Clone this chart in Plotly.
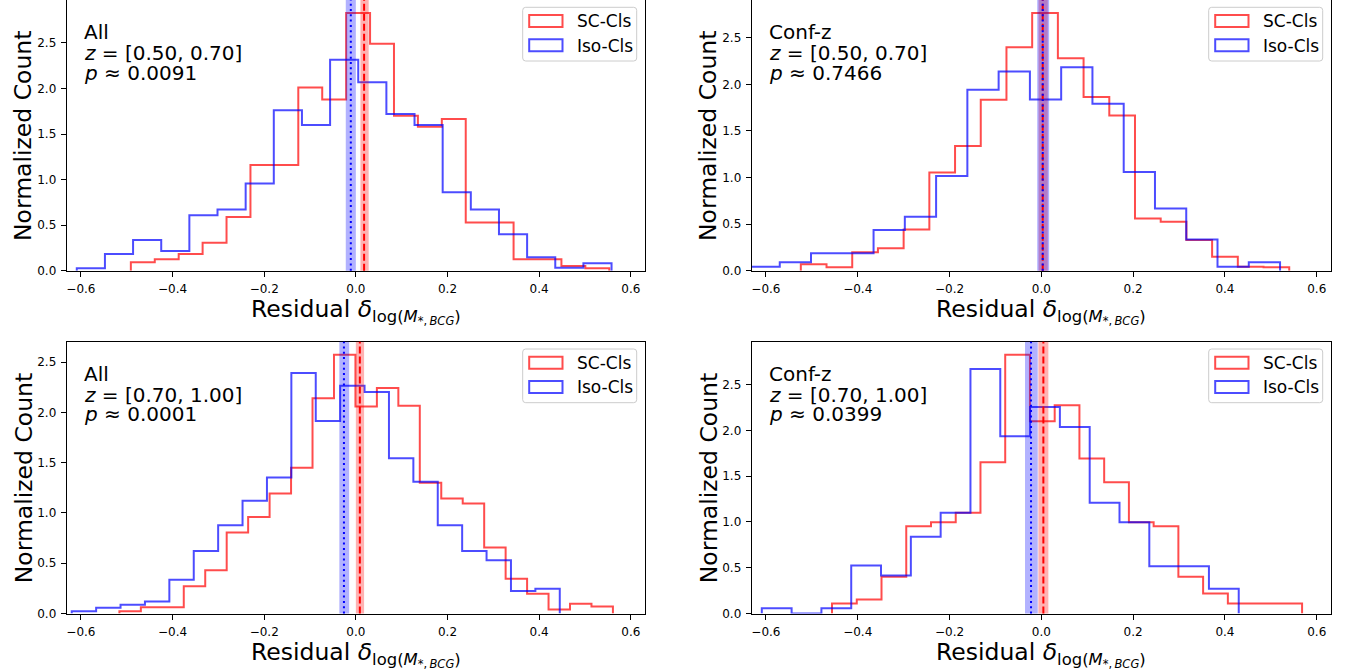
import numpy as np
import plotly.graph_objects as go

# ---------------- data ----------------
x_tick_vals = [-0.6, -0.4, -0.2, 0.0, 0.2, 0.4, 0.6]
x_tick_text = ["\u22120.6", "\u22120.4", "\u22120.2", "0.0", "0.2", "0.4", "0.6"]
y_tick_vals = [0.0, 0.5, 1.0, 1.5, 2.0, 2.5]
y_tick_text = ["0.0", "0.5", "1.0", "1.5", "2.0", "2.5"]

series_names = ["SC-Cls", "Iso-Cls"]
panel_sample = ["All", "Conf-z", "All", "Conf-z"]
panel_zbin = ["[0.50, 0.70]", "[0.50, 0.70]", "[0.70, 1.00]", "[0.70, 1.00]"]
panel_pvalue = ["0.0091", "0.7466", "0.0001", "0.0399"]

# Panel 1: All, z=[0.50,0.70]
sc_range_p1 = (-0.491, 0.553)
sc_vals_p1 = [0.092, 0.125, 0.183, 0.307, 0.59, 1.16, 1.16, 2.01, 1.88, 2.83,
              2.49, 1.70, 1.58, 1.665, 0.53, 0.53, 0.125, 0.125, 0.051, 0.026]
iso_range_p1 = (-0.609, 0.558)
iso_vals_p1 = [0.026, 0.183, 0.336, 0.216, 0.61, 0.672, 0.957, 1.76, 1.60, 2.315,
               2.07, 1.72, 1.60, 0.86, 0.672, 0.40, 0.147, 0.033, 0.081]
sc_median_p1, sc_err_p1 = 0.018, (0.010, 0.028)
iso_median_p1, iso_err_p1 = -0.011, (-0.022, 0.000)

# Panel 2: Conf-z, z=[0.50,0.70]
sc_range_p2 = (-0.524, 0.540)
sc_vals_p2 = [0.068, 0.036, 0.197, 0.24, 0.443, 1.053, 1.338, 1.835, 2.398, 2.767,
              2.28, 1.863, 1.667, 0.561, 0.525, 0.329, 0.15, 0.043, 0.036]
iso_range_p2 = (-0.638, 0.520)
iso_vals_p2 = [0.043, 0.09, 0.186, 0.186, 0.436, 0.578, 1.017, 1.942, 2.138, 1.838,
               2.184, 1.792, 1.06, 0.668, 0.336, 0.043, 0.09]
sc_median_p2, sc_err_p2 = 0.003, (-0.006, 0.014)
iso_median_p2, iso_err_p2 = 0.003, (-0.009, 0.017)

# Panel 3: All, z=[0.70,1.00]
sc_range_p3 = (-0.516, 0.561)
sc_vals_p3 = [0.023, 0.063, 0.063, 0.27, 0.429, 0.805, 0.961, 1.194, 1.45, 2.142,
              2.575, 2.06, 2.243, 2.066, 1.30, 1.145, 1.095, 0.656, 0.346, 0.196,
              0.04, 0.097, 0.07]
iso_range_p3 = (-0.620, 0.445)
iso_vals_p3 = [0.023, 0.057, 0.087, 0.12, 0.336, 0.622, 0.878, 1.121, 1.354, 2.392,
               1.916, 2.265, 2.203, 1.544, 1.31, 0.878, 0.622, 0.529, 0.223, 0.246]
sc_median_p3, sc_err_p3 = 0.0087, (0.000, 0.018)
iso_median_p3, iso_err_p3 = -0.026, (-0.036, -0.0146)

# Panel 4: Conf-z, z=[0.70,1.00]
sc_range_p4 = (-0.456, 0.568)
sc_vals_p4 = [0.11, 0.154, 0.401, 0.953, 0.997, 1.10, 1.651, 2.826, 2.098, 2.273,
              1.691, 1.433, 0.997, 0.953, 0.401, 0.219, 0.11, 0.11, 0.11]
iso_range_p4 = (-0.609, 0.430)
iso_vals_p4 = [0.056, 0.0, 0.056, 0.525, 0.416, 0.837, 1.10, 2.67, 1.935, 2.255,
               2.037, 1.208, 0.997, 0.517, 0.517, 0.27]
sc_median_p4, sc_err_p4 = 0.0044, (-0.0065, 0.0153)
iso_median_p4, iso_err_p4 = -0.0225, (-0.0356, -0.0079)

panels = [
    (sc_range_p1, sc_vals_p1, iso_range_p1, iso_vals_p1, sc_median_p1, sc_err_p1, iso_median_p1, iso_err_p1),
    (sc_range_p2, sc_vals_p2, iso_range_p2, iso_vals_p2, sc_median_p2, sc_err_p2, iso_median_p2, iso_err_p2),
    (sc_range_p3, sc_vals_p3, iso_range_p3, iso_vals_p3, sc_median_p3, sc_err_p3, iso_median_p3, iso_err_p3),
    (sc_range_p4, sc_vals_p4, iso_range_p4, iso_vals_p4, sc_median_p4, sc_err_p4, iso_median_p4, iso_err_p4),
]

# ---------------- style / layout ----------------
W, H = 1358, 670
FONT = "DejaVu Sans"
RED_LINE = "rgba(255,0,0,0.7)"
BLUE_LINE = "rgba(0,0,255,0.7)"
RED_BAND = "rgba(255,0,0,0.3)"
BLUE_BAND = "rgba(0,0,255,0.3)"
X_RANGE = [-0.631, 0.631]

# panel boxes in pixels: left, right, top, bottom
boxes = [(66.7, 645.0, 0.0, 270.7), (751.7, 1331.0, 0.0, 270.7),
         (66.7, 645.0, 341.7, 613.5), (751.7, 1331.0, 341.7, 613.5)]


def px(x):
    return x / W


def py(y):
    return 1 - y / H


def step_xy(rng, vals):
    edges = np.linspace(rng[0], rng[1], len(vals) + 1)
    xs = [edges[0]] + list(edges)
    ys = [0.0] + list(vals) + [0.0]
    return xs, ys


fig = go.Figure()
shapes = []
annotations = []
layout_axes = {}

for i, (sc_r, sc_v, iso_r, iso_v, sc_m, sc_e, iso_m, iso_e) in enumerate(panels):
    n = i + 1
    xa = "x" if n == 1 else f"x{n}"
    ya = "y" if n == 1 else f"y{n}"
    L, R, T, B = boxes[i]
    ymax = 1.05 * max(max(sc_v), max(iso_v))

    for rng, vals, col, name in [(sc_r, sc_v, RED_LINE, series_names[0]),
                                 (iso_r, iso_v, BLUE_LINE, series_names[1])]:
        xs, ys = step_xy(rng, vals)
        fig.add_trace(go.Scatter(x=xs, y=ys, mode="lines", line=dict(color=col, width=2, shape="hv"),
                                 name=name, showlegend=False, xaxis=xa, yaxis=ya, hoverinfo="skip"))

    # bands and median lines
    for (lo, hi), colr in [(sc_e, RED_BAND), (iso_e, BLUE_BAND)]:
        shapes.append(dict(type="rect", xref=xa, yref=f"{ya} domain", x0=lo, x1=hi, y0=0, y1=1,
                           fillcolor=colr, line=dict(width=0), layer="above"))
    shapes.append(dict(type="line", xref=xa, yref=f"{ya} domain", x0=sc_m, x1=sc_m, y0=0, y1=1,
                       line=dict(color="red", width=2, dash="7px,3px"), layer="above"))
    shapes.append(dict(type="line", xref=xa, yref=f"{ya} domain", x0=iso_m, x1=iso_m, y0=0, y1=1,
                       line=dict(color="blue", width=2, dash="2px,3.3px"), layer="above"))

    axis_common = dict(showgrid=False, zeroline=False, showline=True, mirror=True, linecolor="black",
                       linewidth=1, ticks="outside", ticklen=5, tickwidth=1, tickcolor="black",
                       automargin=False, tickfont=dict(family=FONT, size=12, color="black"))
    layout_axes["xaxis" if n == 1 else f"xaxis{n}"] = dict(
        domain=[px(L), px(R)], range=X_RANGE, anchor=ya, tickmode="array",
        tickvals=x_tick_vals, ticktext=x_tick_text, ticklabelstandoff=2, **axis_common)
    layout_axes["yaxis" if n == 1 else f"yaxis{n}"] = dict(
        domain=[py(B), py(T)], range=[0, ymax], anchor=xa, tickmode="array",
        tickvals=y_tick_vals, ticktext=y_tick_text, ticklabelstandoff=2, **axis_common)

    # panel text
    lines = [panel_sample[i], f"<i>z</i> = {panel_zbin[i]}", f"<i>p</i> \u2248 {panel_pvalue[i]}"]
    for k, (txt, dy) in enumerate(zip(lines, [32.0, 53.0, 72.5])):
        annotations.append(dict(text=txt, xref="paper", yref="paper", x=px(L + 15.5), y=py(T + dy),
                                xanchor="left", yanchor="middle", showarrow=False,
                                font=dict(family=FONT, size=20, color="black")))

    # legend
    bl, br, bt, bb = R - 122.3, R - 8.3, T + 7.3, T + 61.0
    r = 3.0
    path = (f"M {px(bl + r)},{py(bt)} L {px(br - r)},{py(bt)} Q {px(br)},{py(bt)} {px(br)},{py(bt + r)} "
            f"L {px(br)},{py(bb - r)} Q {px(br)},{py(bb)} {px(br - r)},{py(bb)} "
            f"L {px(bl + r)},{py(bb)} Q {px(bl)},{py(bb)} {px(bl)},{py(bb - r)} "
            f"L {px(bl)},{py(bt + r)} Q {px(bl)},{py(bt)} {px(bl + r)},{py(bt)} Z")
    shapes.append(dict(type="path", xref="paper", yref="paper", path=path,
                       fillcolor="rgba(255,255,255,0.8)", line=dict(color="#cccccc", width=1), layer="above"))
    for k, (col, name) in enumerate([(RED_LINE, series_names[0]), (BLUE_LINE, series_names[1])]):
        y0 = T + 15.0 + k * 24.2
        shapes.append(dict(type="rect", xref="paper", yref="paper", x0=px(bl + 6.5), x1=px(bl + 39.8),
                           y0=py(y0 + 12.0), y1=py(y0), fillcolor="rgba(0,0,0,0)",
                           line=dict(color=col, width=2), layer="above"))
        annotations.append(dict(text=name, xref="paper", yref="paper", x=px(bl + 52.0), y=py(y0 + 6.5),
                                xanchor="left", yanchor="middle", showarrow=False,
                                font=dict(family=FONT, size=17, color="black")))

    # axis titles
    annotations.append(dict(text="Normalized Count", xref="paper", yref="paper", x=px(L - 43.0),
                            y=py((T + B) / 2), xanchor="center", yanchor="middle", textangle=-90,
                            showarrow=False, font=dict(family=FONT, size=23.5, color="black")))
    annotations.append(dict(
        text="Residual <i>\u03b4</i><sub>log(<i>M</i><sub>*,\u2009<i>BCG</i></sub>)</sub>",
        xref="paper", yref="paper", x=px((L + R) / 2), y=py(B + 22.0), xanchor="center", yanchor="top",
        showarrow=False, font=dict(family=FONT, size=23.5, color="black")))

fig.update_layout(width=W, height=H, margin=dict(l=0, r=0, t=0, b=0, autoexpand=False),
                  paper_bgcolor="white", plot_bgcolor="white", showlegend=False,
                  shapes=shapes, annotations=annotations, **layout_axes)

fig.write_html("out.html")
